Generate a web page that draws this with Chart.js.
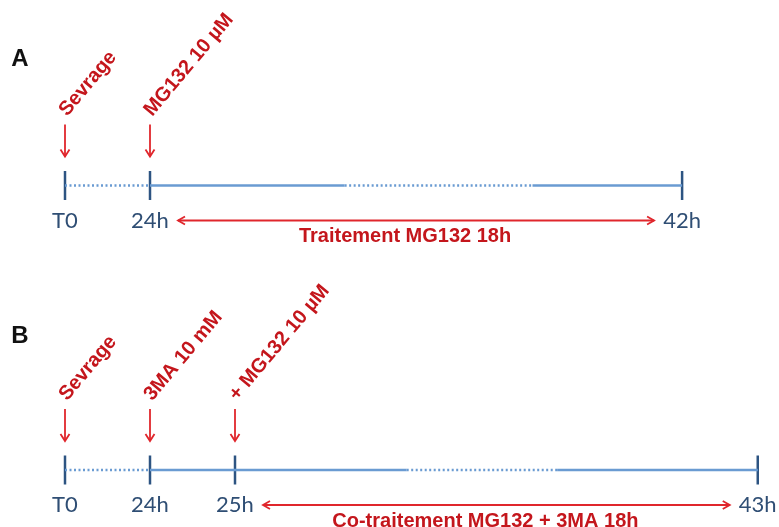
<!DOCTYPE html>
<html>
<head>
<meta charset="utf-8">
<script src="https://cdn.jsdelivr.net/npm/chart.js@4"></script>
<style>
  body { margin: 0; background: #fff; }
  canvas { display: block; }
</style>
</head>
<body>
<canvas id="ctx" width="779" height="527"></canvas>
<script>
'use strict';
// schematic timelines: positions are slots along the time axis (not to scale)
const panels = ['A', 'B'];

const tickLabelsA = ['T0', '24h', '42h'];
const tickSlotsA = [0, 1, 7.26];
const segSlotsA = [0, 1, 3.29, 5.5, 7.26];
const segKindA = ['dotted', 'solid', 'dotted', 'solid'];
const eventsA = ['Sevrage', 'MG132 10 µM'];
const eventSlotsA = [0, 1];
const durationA = { label: 'Traitement MG132 18h', from: 1, to: 7.26 };

const tickLabelsB = ['T0', '24h', '25h', '43h'];
const tickSlotsB = [0, 1, 2, 8.15];
const segSlotsB = [0, 1, 4.02, 5.79, 8.15];
const segKindB = ['dotted', 'solid', 'dotted', 'solid'];
const eventsB = ['Sevrage', '3MA 10 mM', '+ MG132 10 µM'];
const eventSlotsB = [0, 1, 2];
const durationB = { label: 'Co-traitement MG132 + 3MA 18h', from: 2, to: 8.15 };

const rows = [
  { name: panels[0], ticks: tickLabelsA, tickSlots: tickSlotsA, seg: segSlotsA, kind: segKindA, events: eventsA, eventSlots: eventSlotsA, dur: durationA },
  { name: panels[1], ticks: tickLabelsB, tickSlots: tickSlotsB, seg: segSlotsB, kind: segKindB, events: eventsB, eventSlots: eventSlotsB, dur: durationB }
];

const lineBlue = '#6a9bd2';
const tickBlue = '#2d5482';
const arrowRed = '#e0262c';
const textRed = '#c4161c';

let datasets = [];
rows.forEach((r, ri) => {
  const y = ri + 1;
  for (let i = 0; i < r.kind.length; i++) {
    datasets.push({
      type: 'line',
      data: [{ x: r.seg[i], y: y }, { x: r.seg[i + 1], y: y }],
      borderColor: lineBlue,
      borderWidth: 2.5,
      borderDash: r.kind[i] === 'dotted' ? [2, 2.5] : [],
      pointRadius: 0
    });
  }
  datasets.push({
    type: 'scatter',
    data: r.tickSlots.map(s => ({ x: s, y: y })),
    pointStyle: 'line',
    rotation: 90,
    pointRadius: 14.5,
    pointHoverRadius: 14.5,
    borderColor: tickBlue,
    backgroundColor: tickBlue,
    borderWidth: 2.5
  });
});

function arrowHead(c, x, y, dir) {
  // dir: 'down', 'left', 'right'
  c.beginPath();
  if (dir === 'down') {
    c.moveTo(x - 4.5, y - 7); c.lineTo(x, y); c.lineTo(x + 4.5, y - 7);
  } else if (dir === 'left') {
    c.moveTo(x + 7, y - 4); c.lineTo(x, y); c.lineTo(x + 7, y + 4);
  } else {
    c.moveTo(x - 7, y - 4); c.lineTo(x, y); c.lineTo(x - 7, y + 4);
  }
  c.stroke();
}

const annotate = {
  id: 'annotate',
  afterDatasetsDraw(chart) {
    const c = chart.ctx;
    const xs = chart.scales.x, ys = chart.scales.y;
    c.save();
    rows.forEach((r, ri) => {
      const ly = ys.getPixelForValue(ri + 1);
      // panel letter
      c.fillStyle = '#111';
      c.font = 'bold 24px "Liberation Sans", Arial, sans-serif';
      c.textAlign = 'center';
      c.textBaseline = 'middle';
      c.fillText(r.name, 20, ly - 126 - (ri === 0 ? 0 : 8));

      // time labels
      c.fillStyle = '#2f4e74';
      c.font = '22px Lato, "Open Sans", sans-serif';
      r.ticks.forEach((t, i) => {
        c.fillText(t, xs.getPixelForValue(r.tickSlots[i]), ly + 35);
      });

      // event arrows + rotated labels
      c.strokeStyle = arrowRed;
      c.lineWidth = 1.8;
      r.events.forEach((ev, i) => {
        const x = xs.getPixelForValue(r.eventSlots[i]);
        c.beginPath();
        c.moveTo(x, ly - 61);
        c.lineTo(x, ly - 29);
        c.stroke();
        arrowHead(c, x, ly - 29, 'down');
        c.save();
        c.translate(x - 2, ly - 72);
        c.rotate(-50 * Math.PI / 180);
        c.fillStyle = textRed;
        c.font = 'bold 20px "Liberation Sans", Arial, sans-serif';
        c.textAlign = 'left';
        c.textBaseline = 'middle';
        c.fillText(ev, 0, 0);
        c.restore();
      });

      // duration arrow
      const x1 = xs.getPixelForValue(r.dur.from) + 28;
      const x2 = xs.getPixelForValue(r.dur.to) - 28;
      const ay = ly + 35;
      c.beginPath();
      c.moveTo(x1, ay);
      c.lineTo(x2, ay);
      c.stroke();
      arrowHead(c, x1, ay, 'left');
      arrowHead(c, x2, ay, 'right');
      c.fillStyle = textRed;
      c.font = 'bold 20px "Liberation Sans", Arial, sans-serif';
      c.textAlign = 'center';
      c.fillText(r.dur.label, (x1 + x2) / 2 - 11, ly + 51);
    });
    c.restore();
  }
};

const myChart = new Chart(document.getElementById('ctx'), {
  type: 'line',
  data: { datasets: datasets },
  options: {
    responsive: false,
    animation: false,
    devicePixelRatio: 1,
    layout: { padding: 0, autoPadding: false },
    plugins: { legend: { display: false }, tooltip: { enabled: false } },
    events: [],
    scales: {
      x: { type: 'linear', display: false, min: -65 / 85, max: (779 - 65) / 85 },
      y: { type: 'linear', display: false, reverse: true, min: 1 - 185.5 / 284.5, max: 2 + 57 / 284.5 }
    }
  },
  plugins: [annotate]
});
</script>
</body>
</html>
